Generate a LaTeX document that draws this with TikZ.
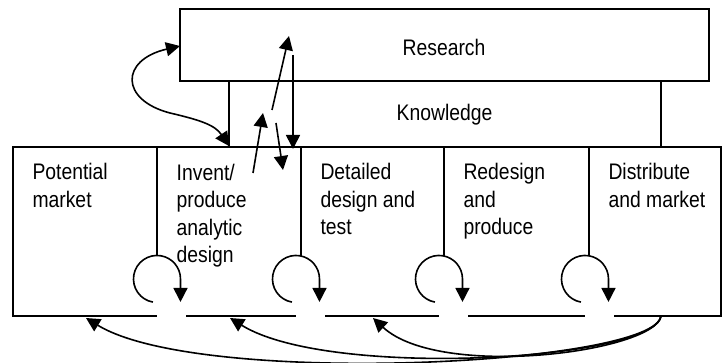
\documentclass[tikz,border=0pt]{standalone}
\usepackage{fontspec}
\setmainfont{Liberation Sans}[FakeStretch=0.86]
\usetikzlibrary{arrows.meta}
\begin{document}
\begin{tikzpicture}[x=1pt,y=-1pt,
  frame/.style={line width=2pt},
  link/.style={line width=1.6pt},
  headtip/.style={-{Triangle[length=14pt,width=14pt]}},
  bothtips/.style={{Triangle[length=14pt,width=14pt]}-{Triangle[length=14pt,width=14pt]}},
  label/.style={inner sep=0pt, font=\fontsize{22.5}{27.5}\selectfont},
  stage/.style={label, align=left, anchor=base west}]
\useasboundingbox (0,0) rectangle (722,363);

% research, knowledge and the chain of stages
\draw[frame] (180,9.5) rectangle (709,81);
\draw[frame] (229,81) rectangle (661,147);
\draw[frame] (12.7,147) rectangle (720.5,315.7);
\foreach \d in {157,301,444,589} \draw[frame] (\d,147) -- (\d,256);

% openings in the bottom edge under each feedback loop
\foreach \c in {157,296,439,585} \fill[white] (\c,306) rectangle (\c+29,319);

% texts (a multi-line node sits on the baseline of its last line)
\node[label, anchor=base] (research) at (444,55.7) {Research};
\node[label, anchor=base] (knowledge) at (444.5,120.5) {Knowledge};
\node[stage] (market) at (32.3,207.5) {Potential\\market};
\node[stage] (invent) at (176.5,262.5) {Invent/\\produce\\analytic\\design};
\node[stage] (detail) at (320.3,235) {Detailed\\design and\\test};
\node[stage] (redesign) at (463.3,235) {Redesign\\and\\produce};
\node[stage] (distribute) at (608.3,207.5) {Distribute\\and market};

% feedback loops inside the stages
\foreach \c in {157,296,439,585}
  \draw[link, headtip] (\c-4.1,302.1) arc[start angle=100, end angle=360, radius=23.5] -- ++(0,23);

% links between research, knowledge and design
\coordinate (rsL) at (180,46);
\coordinate (ivT) at (229,146);
\draw[link, bothtips] (rsL) .. controls (120,60) and (120,100) .. (170,113)
  .. controls (200,120) and (215,125) .. (ivT);

\coordinate (upAfrom) at (272,110);
\coordinate (upAto) at (289,36);
\coordinate (upBfrom) at (253,173);
\coordinate (upBto) at (263,113);
\coordinate (dnAfrom) at (293,55);
\coordinate (dnAto) at (293,149);
\coordinate (dnBfrom) at (276,123);
\coordinate (dnBto) at (283,170);
\draw[link, headtip] (upAfrom) -- (upAto);
\draw[link, headtip] (upBfrom) -- (upBto);
\draw[link, headtip] (dnAfrom) -- (dnAto);
\draw[link, headtip] (dnBfrom) -- (dnBto);

% feedback from the market back to the earlier stages
\coordinate (src) at (661,316);
\coordinate (backA) at (86,318);
\coordinate (backB) at (230,318);
\coordinate (backC) at (373,318);
\draw[link, headtip] (src) .. controls (655,365) and (200,388) .. (backA);
\draw[link, headtip] (src) .. controls (655,360) and (330,380) .. (backB);
\draw[link, headtip] (src) .. controls (655,352) and (440,380) .. (backC);
\end{tikzpicture}
\end{document}
